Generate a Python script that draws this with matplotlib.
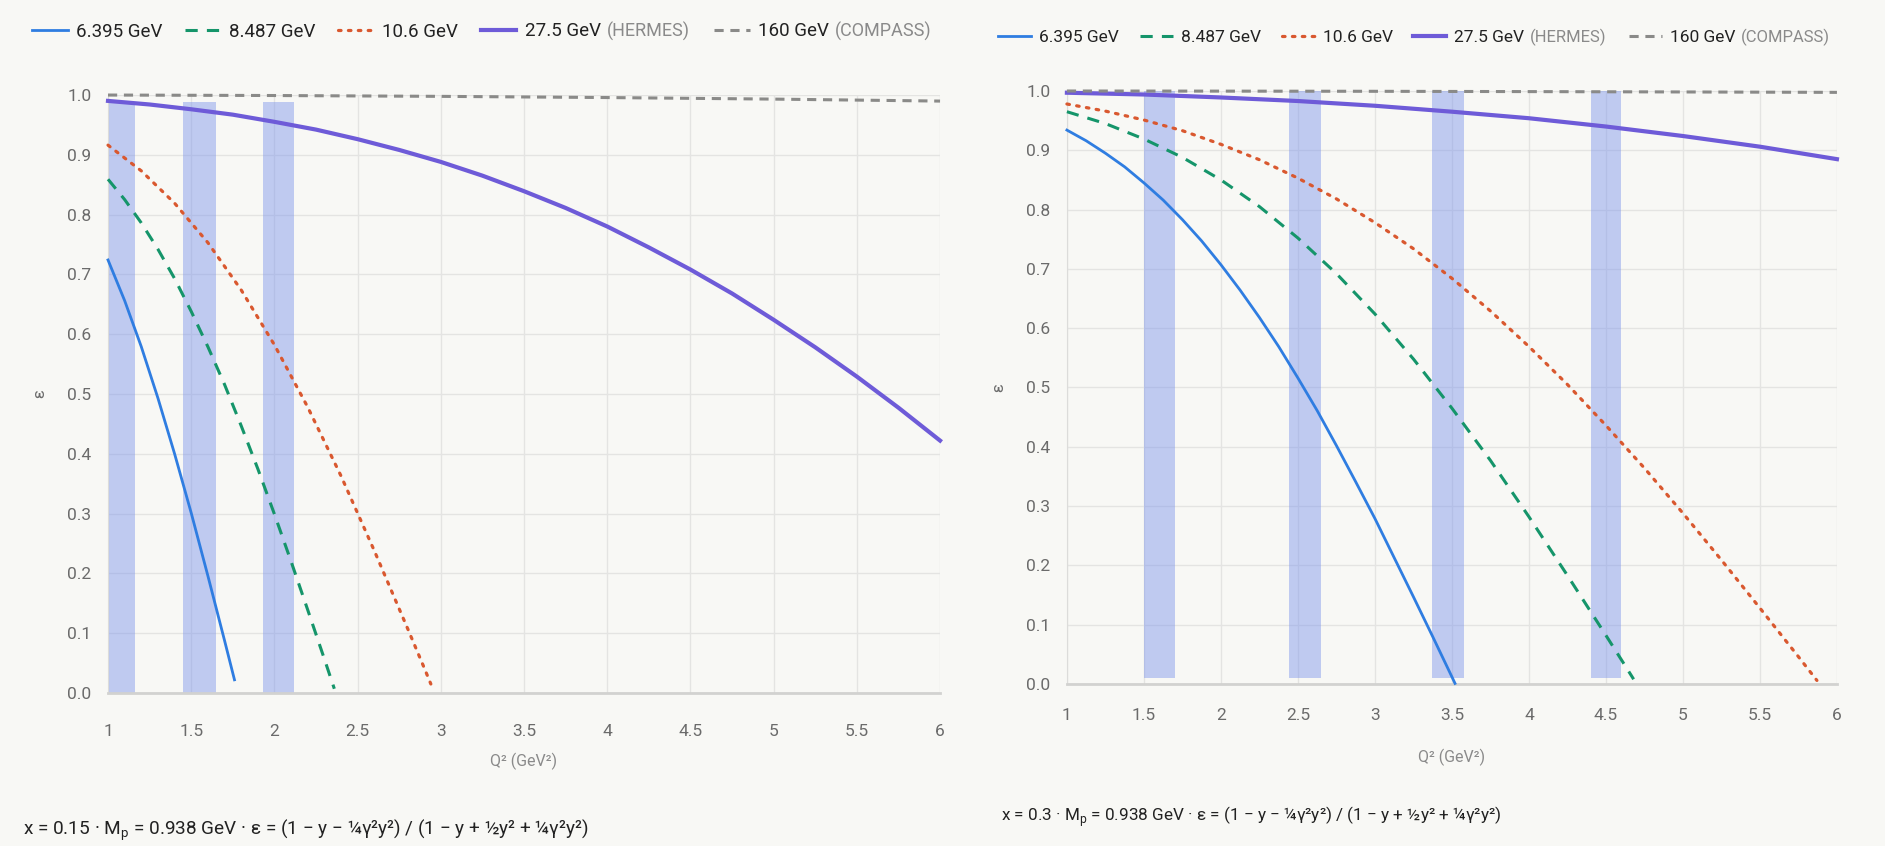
import matplotlib
matplotlib.use("Agg")
import matplotlib.pyplot as plt
from matplotlib.lines import Line2D

plt.rcParams['font.family'] = ['Roboto', 'DejaVu Sans']

# ------------------------------------------------------------
# data  (Q^2 in GeV^2, epsilon)
# ------------------------------------------------------------

# left panel, x = 0.15
l_q2_e6 = [1.0, 1.1, 1.2, 1.3, 1.4, 1.5, 1.6, 1.7, 1.76]
l_eps_e6 = [0.724, 0.656, 0.579, 0.493, 0.400, 0.301, 0.196, 0.088, 0.022]

l_q2_e8 = [1.0, 1.1, 1.2, 1.3, 1.4, 1.5, 1.6, 1.7, 1.8, 1.9, 2.0, 2.1, 2.2, 2.3, 2.36]
l_eps_e8 = [0.859, 0.825, 0.786, 0.742, 0.693, 0.638, 0.579, 0.516, 0.447, 0.375,
            0.299, 0.220, 0.139, 0.057, 0.007]

l_q2_e10 = [1.0, 1.2, 1.4, 1.6, 1.8, 2.0, 2.2, 2.4, 2.6, 2.8, 2.9, 2.94]
l_eps_e10 = [0.916, 0.873, 0.819, 0.753, 0.674, 0.582, 0.478, 0.363, 0.238, 0.108, 0.042, 0.015]

l_q2_e27 = [1.0, 1.25, 1.5, 1.75, 2.0, 2.25, 2.5, 2.75, 3.0, 3.25, 3.5,
            3.75, 4.0, 4.25, 4.5, 4.75, 5.0, 5.25, 5.5, 5.75, 6.0]
l_eps_e27 = [0.990, 0.984, 0.976, 0.967, 0.955, 0.942, 0.926, 0.908, 0.888, 0.865, 0.839,
             0.811, 0.780, 0.745, 0.708, 0.668, 0.624, 0.578, 0.529, 0.477, 0.422]

l_q2_e160 = [1.0, 2.0, 3.0, 4.0, 5.0, 6.0]
l_eps_e160 = [0.9998, 0.9990, 0.9976, 0.9956, 0.9930, 0.9897]

l_bins = [(0.99, 1.16), (1.45, 1.65), (1.93, 2.12)]
l_bin_lo, l_bin_hi = 0.0, 0.988

# right panel, x = 0.3
r_q2_e6 = [1.0, 1.125, 1.25, 1.375, 1.5, 1.625, 1.75, 1.875, 2.0, 2.125, 2.25, 2.375,
           2.5, 2.625, 2.75, 2.875, 3.0, 3.125, 3.25, 3.375, 3.5, 3.52]
r_eps_e6 = [0.934, 0.916, 0.895, 0.872, 0.845, 0.816, 0.783, 0.747, 0.707, 0.664, 0.618, 0.569,
            0.516, 0.461, 0.402, 0.341, 0.279, 0.213, 0.147, 0.080, 0.012, 0.001]

r_q2_e8 = [1.0, 1.25, 1.5, 1.75, 2.0, 2.25, 2.5, 2.75, 3.0, 3.25, 3.5,
           3.75, 4.0, 4.25, 4.5, 4.6, 4.68]
r_eps_e8 = [0.965, 0.945, 0.919, 0.888, 0.850, 0.805, 0.752, 0.692, 0.624, 0.548, 0.465,
            0.377, 0.282, 0.183, 0.082, 0.041, 0.008]

r_q2_e10 = [1.0, 1.25, 1.5, 1.75, 2.0, 2.25, 2.5, 2.75, 3.0, 3.25, 3.5,
            3.75, 4.0, 4.25, 4.5, 4.75, 5.0, 5.25, 5.5, 5.75, 5.87]
r_eps_e10 = [0.978, 0.966, 0.951, 0.933, 0.910, 0.884, 0.853, 0.818, 0.778, 0.734, 0.684,
             0.629, 0.569, 0.505, 0.436, 0.364, 0.288, 0.209, 0.128, 0.046, 0.006]

r_q2_e27 = [1.0, 1.5, 2.0, 2.5, 3.0, 3.5, 4.0, 4.5, 5.0, 5.5, 6.0]
r_eps_e27 = [0.997, 0.994, 0.989, 0.983, 0.975, 0.965, 0.954, 0.940, 0.924, 0.906, 0.885]

r_q2_e160 = [1.0, 2.0, 3.0, 4.0, 5.0, 6.0]
r_eps_e160 = [0.9999, 0.9997, 0.9994, 0.9989, 0.9983, 0.9976]

r_bins = [(1.5, 1.7), (2.44, 2.65), (3.37, 3.58), (4.4, 4.6)]
r_bin_lo, r_bin_hi = 0.01, 1.01

# legend labels: beam energy + (experiment)
energy_labels = ["6.395 GeV", "8.487 GeV", "10.6 GeV", "27.5 GeV", "160 GeV"]
experiment_tags = ["", "", "", "(HERMES)", "(COMPASS)"]

x_ticks = [1, 1.5, 2, 2.5, 3, 3.5, 4, 4.5, 5, 5.5, 6]
x_tick_labels = ["1", "1.5", "2", "2.5", "3", "3.5", "4", "4.5", "5", "5.5", "6"]
y_ticks = [0.0, 0.1, 0.2, 0.3, 0.4, 0.5, 0.6, 0.7, 0.8, 0.9, 1.0]

footnote_left = "x = 0.15 · M$_\\mathregular{p}$ = 0.938 GeV · ε = (1 − y − ¼γ²y²) / (1 − y + ½y² + ¼γ²y²)"
footnote_right = "x = 0.3 · M$_\\mathregular{p}$ = 0.938 GeV · ε = (1 − y − ¼γ²y²) / (1 − y + ½y² + ¼γ²y²)"

# ------------------------------------------------------------
# styles
# ------------------------------------------------------------
BG = "#f8f8f5"
GRID = "#e4e4e2"
TICK = "#6b6b6b"
BAND = "#7b93ec"

styles = [
    dict(color="#2f7de1", lw=2.0, ls="-"),
    dict(color="#15956a", lw=2.2, ls=(0, (4, 3))),
    dict(color="#d9582f", lw=2.3, ls=(0, (0.8, 2.3)), dash_capstyle="round"),
    dict(color="#6e5bd8", lw=3.0, ls="-"),
    dict(color="#8a8a88", lw=2.2, ls=(0, (3, 2.2))),
]


def draw_panel(ax, series, bins, bin_lo, bin_hi, xpad, xlabelpad):
    ax.set_facecolor(BG)
    for x0, x1 in bins:
        ax.fill_between([x0, x1], bin_lo, bin_hi, color=BAND, alpha=0.45,
                        lw=0, zorder=1)
    for (q2, eps), st in zip(series, styles):
        ax.plot(q2, eps, zorder=3, clip_on=False, **st)

    ax.set_xlim(1, 6)
    ax.set_ylim(0, 1)
    ax.set_xticks(x_ticks)
    ax.set_xticklabels(x_tick_labels)
    ax.set_yticks(y_ticks)
    ax.set_yticklabels([f"{v:.1f}" for v in y_ticks])
    ax.tick_params(colors=TICK, labelsize=12.5, length=0)
    ax.tick_params(axis="y", pad=12)
    ax.tick_params(axis="x", pad=xpad)
    ax.grid(True, color=GRID, lw=1.0, zorder=0)
    ax.set_axisbelow(True)
    for s in ["top", "right"]:
        ax.spines[s].set_visible(False)
    ax.spines["left"].set_color("#dcdcda")
    ax.spines["bottom"].set_color("#d2d2d0")
    ax.spines["bottom"].set_linewidth(2.0)
    ax.set_xlabel("Q² (GeV²)", color="#8a8a8a", fontsize=11.5, labelpad=xlabelpad)
    ax.set_ylabel("ε", color="#6b6b6b", fontsize=12, labelpad=14)


def add_legend(fig, x, y, fs, tag_fs, colspace):
    handles = [Line2D([0], [0], **st) for st in styles]
    labels = [e + (" " + t if t else "") for e, t in zip(energy_labels, experiment_tags)]
    leg = fig.legend(handles, labels, loc="center left", bbox_to_anchor=(x, y),
                     ncol=5, frameon=False, fontsize=fs, handlelength=1.9,
                     handletextpad=0.45, columnspacing=colspace, borderaxespad=0)
    # energy in dark, experiment name in a lighter grey right after it
    for txt, e, t in zip(leg.get_texts(), energy_labels, experiment_tags):
        if t:
            txt.set_alpha(0)
            a1 = plt.Annotation(e, xy=(0, 0.5), xycoords=txt, va="center",
                                ha="left", fontsize=fs, color="#222222")
            a1.set_zorder(10)
            fig.add_artist(a1)
            a2 = plt.Annotation(t, xy=(1, 0.5), xycoords=a1, xytext=(4, 0),
                                textcoords="offset points", va="center",
                                ha="left", fontsize=tag_fs, color="#8a8a8a")
            a2.set_zorder(11)
            fig.add_artist(a2)
        else:
            txt.set_color("#222222")
    return leg


fig = plt.figure(figsize=(18.85, 8.46), dpi=100)
fig.patch.set_facecolor(BG)

ax_l = fig.add_axes([0.0573, 0.1809, 0.4414, 0.7069])
ax_r = fig.add_axes([0.5660, 0.1915, 0.4085, 0.7010])

draw_panel(ax_l,
           [(l_q2_e6, l_eps_e6), (l_q2_e8, l_eps_e8), (l_q2_e10, l_eps_e10),
            (l_q2_e27, l_eps_e27), (l_q2_e160, l_eps_e160)],
           l_bins, l_bin_lo, l_bin_hi, 22, 10)
draw_panel(ax_r,
           [(r_q2_e6, r_eps_e6), (r_q2_e8, r_eps_e8), (r_q2_e10, r_eps_e10),
            (r_q2_e27, r_eps_e27), (r_q2_e160, r_eps_e160)],
           r_bins, r_bin_lo, r_bin_hi, 17, 19)

add_legend(fig, 0.013, 0.963, 13.5, 13, 1.2)
add_legend(fig, 0.526, 0.956, 12.5, 12, 1.2)

fig.text(0.012, 0.019, footnote_left, fontsize=13.7, color="#222222", va="center")
fig.text(0.531, 0.035, footnote_right, fontsize=12.3, color="#222222", va="center")

fig.savefig("out.png", dpi=100, facecolor=BG)
